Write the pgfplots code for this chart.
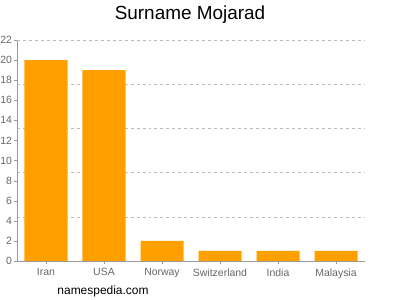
\documentclass[border=0pt]{standalone}
\usepackage{pgfplots}
\pgfplotsset{compat=1.18}
\usepackage{fontspec}
\setmainfont{Liberation Sans}
\definecolor{barorange}{HTML}{FFA000}
\definecolor{axgray}{HTML}{999999}
\definecolor{txtgray}{HTML}{666666}
\definecolor{gridgray}{HTML}{BBBBBB}
\begin{document}
\begin{tikzpicture}[x=1bp,y=1bp]
\path[use as bounding box] (0,0) rectangle (400,300);
\begin{axis}[
  at={(17bp,39bp)}, anchor=south west,
  scale only axis,
  width=348bp, height=221bp,
  xmin=-0.5, xmax=5.5,
  ymin=0, ymax=22,
  axis x line*=bottom,
  axis y line*=left,
  axis line style={axgray},
  xtick=data,
  xticklabels={Iran,USA,Norway,Switzerland,India,Malaysia},
  ytick={0,2,...,22},
  extra y ticks={4.4,8.8,13.2,17.6,22},
  extra y tick labels={},
  extra y tick style={grid=major, major grid style={gridgray, dashed}, tick style={draw=none}},
  tick style={axgray},
  tick align=outside,
  major tick length=3bp,
  ticklabel style={font=\fontsize{10.5}{12}\selectfont, text=txtgray},
  yticklabel style={xshift=1.5bp},
  xticklabel style={yshift=-1bp},
  /pgf/number format/assume math mode=true,
  bar width=43bp,
  clip=false,
]
\addplot[ybar, fill=barorange, draw=none] coordinates {(0,20) (1,19) (2,2) (3,1) (4,1) (5,1)};
\end{axis}
\node[font=\fontsize{19}{22}\selectfont, anchor=center] at (190,285) {Surname Mojarad};
\node[font=\fontsize{12}{14}\selectfont, anchor=center] at (103,9) {namespedia.com};
\end{tikzpicture}
\end{document}
